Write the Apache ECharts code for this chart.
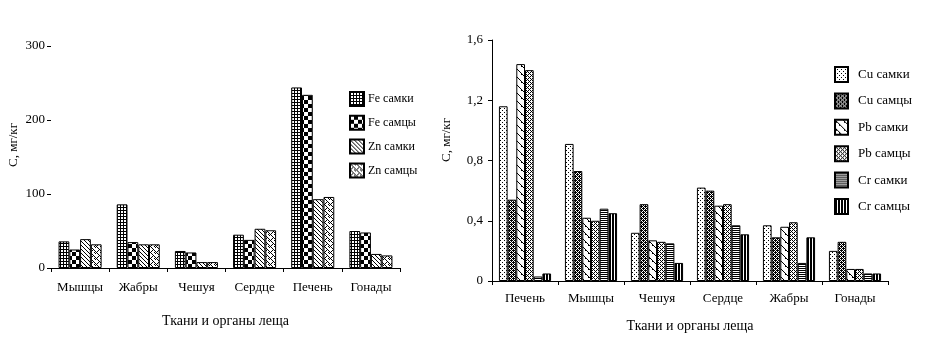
<!DOCTYPE html>
<html><head><meta charset="utf-8">
<script src="https://cdn.jsdelivr.net/npm/echarts@6/dist/echarts.min.js"></script>
<style>html,body{margin:0;padding:0;background:#fff}#c{width:930px;height:341px}</style>
</head><body><div id="c"></div>
<script>
// ---- Data: left chart (Fe, Zn), мг/кг ----
const categoriesLeft = ['Мышцы', 'Жабры', 'Чешуя', 'Сердце', 'Печень', 'Гонады'];
const feFemale = [36, 86, 23, 45, 244, 50];
const feMale   = [25, 35, 21, 38, 234, 48];
const znFemale = [39, 32, 8, 53, 93, 19];
const znMale   = [32, 32, 8, 51, 96, 17];
const leftTicks = [0, 100, 200, 300];

// ---- Data: right chart (Cu, Pb, Cr), мг/кг ----
const categoriesRight = ['Печень', 'Мышцы', 'Чешуя', 'Сердце', 'Жабры', 'Гонады'];
const cuFemale = [1.16, 0.91, 0.32, 0.62, 0.37, 0.20];
const cuMale   = [0.54, 0.73, 0.51, 0.60, 0.29, 0.26];
const pbFemale = [1.44, 0.42, 0.27, 0.50, 0.36, 0.08];
const pbMale   = [1.40, 0.40, 0.26, 0.51, 0.39, 0.08];
const crFemale = [0.03, 0.48, 0.25, 0.37, 0.12, 0.05];
const crMale   = [0.05, 0.45, 0.12, 0.31, 0.29, 0.05];
const rightTicks = [0, 0.4, 0.8, 1.2, 1.6];

const namesLeft = ['Fe самки', 'Fe самцы', 'Zn самки', 'Zn самцы'];
const namesRight = ['Cu самки', 'Cu самцы', 'Pb самки', 'Pb самцы', 'Cr самки', 'Cr самцы'];
const yTitle = 'С, мг/кг';
const xTitle = 'Ткани и органы леща';

// ---- pattern tiles ----
function tile(w, h, fn) {
  const c = document.createElement('canvas');
  c.width = w; c.height = h;
  const g = c.getContext('2d');
  g.fillStyle = '#fff'; g.fillRect(0, 0, w, h);
  g.fillStyle = '#000';
  for (let y = 0; y < h; y++) for (let x = 0; x < w; x++) if (fn(x, y)) g.fillRect(x, y, 1, 1);
  return { image: c, repeat: 'repeat' };
}
const pat = {
  grid: tile(3, 3, (x, y) => x === 0 || y === 0),
  checker: tile(8, 8, (x, y) => ((x < 4) !== (y < 4))),
  diag: tile(4, 4, (x, y) => x === y),
  zig: tile(6, 6, (x, y) => {
    const m = ['100010', '010001', '001000', '000100', '001010', '010001'];
    return m[y][x] === '1';
  }),
  dots: tile(4, 4, (x, y) => (x === 0 && y === 0) || (x === 2 && y === 2)),
  dense: tile(4, 4, (x, y) => {
    const m = ['1011', '0101', '1110', '0101'];
    return m[y][x] === '1';
  }),
  wave: tile(8, 8, (x, y) => {
    const m = ['10000000', '01000000', '01100000', '00010000', '00001000', '00001100', '00000010', '00000001'];
    return m[y][x] === '1';
  }),
  lattice: tile(4, 4, (x, y) => {
    const m = ['1010', '0100', '1010', '0001'];
    return m[y][x] === '1';
  }),
  hlines: tile(2, 2, (x, y) => y === 0),
  vlines: tile(3, 3, (x, y) => x !== 2)
};

const FONT = 'Liberation Serif';
const txt = { color: '#000', fontFamily: FONT, fontSize: 13 };
const titleTxt = { color: '#000', fontFamily: FONT, fontSize: 14 };

function barSeries(name, data, color, axisIdx) {
  return {
    name, type: 'bar', data,
    xAxisIndex: axisIdx, yAxisIndex: axisIdx,
    barGap: '0%', barCategoryGap: axisIdx === 0 ? '26%' : '21%',
    itemStyle: { color, borderColor: '#000', borderWidth: 1 },
    emphasis: { disabled: true },
    animation: false
  };
}

const option = {
  backgroundColor: '#fff',
  animation: false,
  textStyle: txt,
  grid: [
    { left: 51, top: 46, width: 349, height: 222 },
    { left: 492, top: 40, width: 396, height: 241 }
  ],
  legend: [
    {
      data: namesLeft, orient: 'vertical', left: 349, top: 91, padding: 0,
      itemWidth: 14, itemHeight: 14, itemGap: 7.8, icon: 'rect',
      textStyle: { ...txt, fontSize: 12, padding: [0, 0, 0, -1] }, selectedMode: false
    },
    {
      data: namesRight, orient: 'vertical', left: 834, top: 66, padding: 0,
      itemWidth: 13, itemHeight: 15, itemGap: 9.4, icon: 'rect',
      textStyle: { ...txt, padding: [0, 0, 0, 5] }, selectedMode: false
    }
  ],
  xAxis: [
    {
      gridIndex: 0, type: 'category', data: categoriesLeft,
      axisLine: { lineStyle: { color: '#000', width: 1 } },
      axisTick: { show: true, length: 4, lineStyle: { color: '#000' } },
      axisLabel: { ...txt, margin: 13, interval: 0 },
      name: xTitle, nameLocation: 'middle', nameGap: 46, nameTextStyle: titleTxt
    },
    {
      gridIndex: 1, type: 'category', data: categoriesRight,
      axisLine: { lineStyle: { color: '#000', width: 1 } },
      axisTick: { show: true, length: 4, lineStyle: { color: '#000' } },
      axisLabel: { ...txt, margin: 11, interval: 0 },
      name: xTitle, nameLocation: 'middle', nameGap: 38, nameTextStyle: titleTxt
    }
  ],
  yAxis: [
    {
      gridIndex: 0, type: 'value', min: leftTicks[0], max: leftTicks[leftTicks.length - 1], interval: 100,
      axisLine: { show: false },
      axisTick: { show: true, length: 4, lineStyle: { color: '#000' } },
      splitLine: { show: false },
      axisLabel: { ...txt, margin: 6 }
    },
    {
      gridIndex: 1, type: 'value', min: rightTicks[0], max: rightTicks[rightTicks.length - 1], interval: 0.4,
      axisLine: { show: true, lineStyle: { color: '#000', width: 1 } },
      axisTick: { show: true, length: 4, lineStyle: { color: '#000' } },
      splitLine: { show: false },
      axisLabel: { ...txt, margin: 9, formatter: v => String(+v.toFixed(1)).replace('.', ',') }
    }
  ],
  graphic: [
    { type: 'text', x: 14, y: 145, rotation: Math.PI / 2, style: { text: yTitle, fill: '#000', font: '13px "Liberation Serif"', align: 'center', verticalAlign: 'middle' } },
    { type: 'text', x: 447, y: 140, rotation: Math.PI / 2, style: { text: yTitle, fill: '#000', font: '13px "Liberation Serif"', align: 'center', verticalAlign: 'middle' } }
  ],
  series: [
    barSeries(namesLeft[0], feFemale, pat.grid, 0),
    barSeries(namesLeft[1], feMale, pat.checker, 0),
    barSeries(namesLeft[2], znFemale, pat.diag, 0),
    barSeries(namesLeft[3], znMale, pat.zig, 0),
    barSeries(namesRight[0], cuFemale, pat.dots, 1),
    barSeries(namesRight[1], cuMale, pat.dense, 1),
    barSeries(namesRight[2], pbFemale, pat.wave, 1),
    barSeries(namesRight[3], pbMale, pat.lattice, 1),
    barSeries(namesRight[4], crFemale, pat.hlines, 1),
    barSeries(namesRight[5], crMale, pat.vlines, 1)
  ]
};
const chart = echarts.init(document.getElementById('c'), null, { renderer: 'canvas' });
chart.setOption(option);
</script></body></html>
